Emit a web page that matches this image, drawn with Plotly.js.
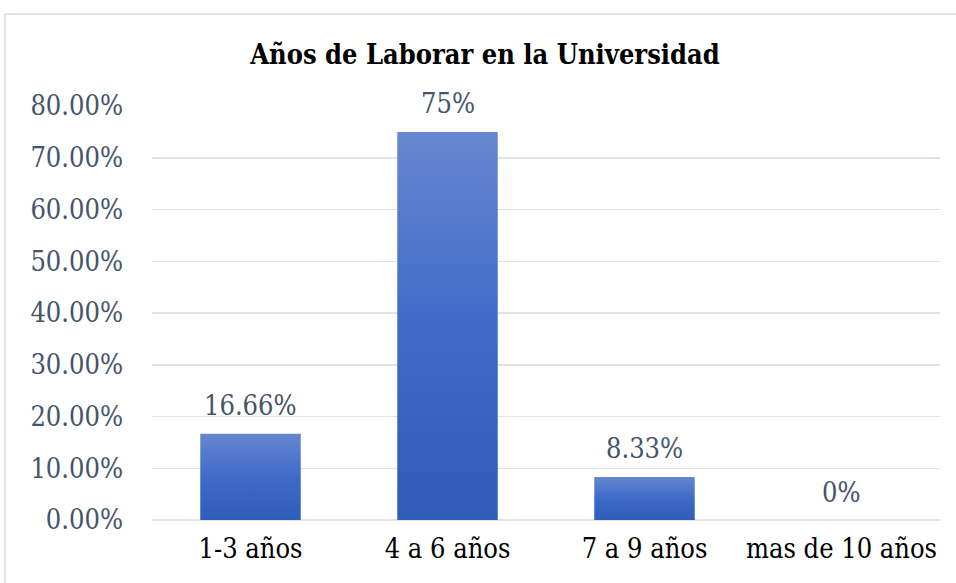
<!DOCTYPE html>
<html>
<head>
<meta charset="utf-8">
<script src="https://cdn.plot.ly/plotly-3.0.1.min.js"></script>
<style>html,body{margin:0;padding:0;background:#fff;}#chart{width:956px;height:583px;}</style>
</head>
<body>
<div id="chart"></div>
<script>
const categories = ["1-3 años", "4 a 6 años", "7 a 9 años", "mas de 10 años"];
const values = [0.1666, 0.75, 0.0833, 0];
const valueLabels = ["16.66%", "75%", "8.33%", "0%"];
const yTickValues = [0, 0.1, 0.2, 0.3, 0.4, 0.5, 0.6, 0.7, 0.8];

const serif = "DejaVu Serif Condensed, DejaVu Serif";
const labelColor = "#44546a";
const gridColor = "#dfe2e8";

const trace = {
  type: "bar",
  x: categories,
  y: values,
  marker: {color: "#3f6cc9", line: {width: 0}},
  hoverinfo: "skip"
};

const annotations = categories.map((c, i) => ({
  x: c, y: values[i], xref: "x", yref: "y",
  text: valueLabels[i], showarrow: false,
  yanchor: "middle", yshift: 28,
  font: {family: serif, size: 27, color: labelColor}
}));

const layout = {
  width: 956, height: 583,
  margin: {l: 152, r: 16, t: 106, b: 63},
  paper_bgcolor: "#ffffff", plot_bgcolor: "#ffffff",
  bargap: 0.49,
  showlegend: false,
  font: {family: serif},
  title: {
    text: "<b>Años de Laborar en la Universidad</b>",
    font: {family: serif, size: 27, color: "#000000"},
    x: 485 / 956, xanchor: "center", xref: "container",
    y: 1 - 55 / 583, yanchor: "middle", yref: "container"
  },
  xaxis: {
    type: "category",
    tickfont: {family: serif, size: 27, color: "#000000"},
    showgrid: false, showline: false, zeroline: false,
    ticks: "", ticklabelstandoff: 10
  },
  yaxis: {
    range: [0, 0.8],
    tickvals: yTickValues,
    tickformat: ".2%",
    tickfont: {family: serif, size: 27, color: labelColor},
    showgrid: true, gridcolor: gridColor, gridwidth: 1.5,
    zeroline: true, zerolinecolor: gridColor, zerolinewidth: 1.5,
    showline: false, ticks: "", ticklabelstandoff: 28
  },
  annotations: annotations,
  shapes: [{
    type: "rect", xref: "paper", yref: "paper",
    x0: (5 - 152) / 788, x1: 1.1, y0: -0.3, y1: (520 - 14) / 414,
    line: {color: "#d9dde5", width: 1.5}, fillcolor: "rgba(0,0,0,0)", layer: "below"
  }]
};

Plotly.newPlot("chart", [trace], layout, {displayModeBar: false, staticPlot: true}).then(gd => {
  const svg = gd.querySelector("svg.main-svg");
  let defs = svg.querySelector("defs");
  const ns = "http://www.w3.org/2000/svg";
  if (!defs) { defs = document.createElementNS(ns, "defs"); svg.insertBefore(defs, svg.firstChild); }
  const grad = document.createElementNS(ns, "linearGradient");
  grad.setAttribute("id", "barGrad");
  grad.setAttribute("x1", "0"); grad.setAttribute("y1", "0");
  grad.setAttribute("x2", "0"); grad.setAttribute("y2", "1");
  [["0", "#6786d0"], ["0.5", "#3f6bc8"], ["1", "#2f5cb8"]].forEach(([o, c]) => {
    const s = document.createElementNS(ns, "stop");
    s.setAttribute("offset", o); s.setAttribute("stop-color", c);
    grad.appendChild(s);
  });
  defs.appendChild(grad);
  gd.querySelectorAll(".bars .point path").forEach(p => { p.style.fill = "url(#barGrad)"; });
});
</script>
</body>
</html>
